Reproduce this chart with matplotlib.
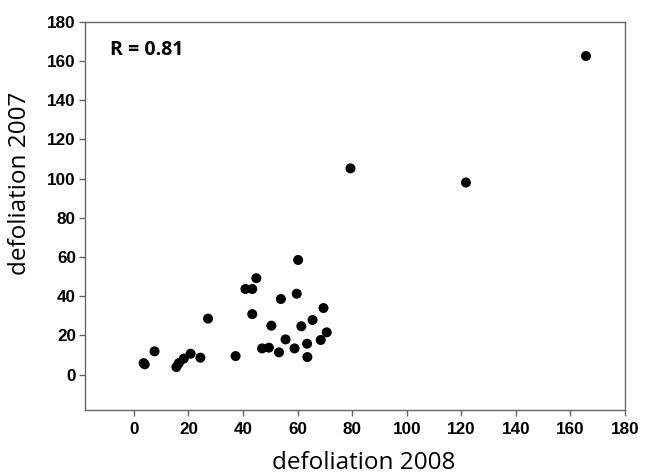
import matplotlib
matplotlib.use("Agg")
import matplotlib.pyplot as plt

# defoliation values
defol_2008 = [3.6, 4.0, 7.6, 15.6, 16.5, 18.3, 20.8, 24.4, 27.2, 37.3,
              40.9, 43.4, 44.9, 43.4, 47.0, 49.5, 50.4, 53.2, 53.9, 55.6,
              58.9, 60.2, 59.7, 61.4, 63.5, 63.6, 65.5, 68.5, 69.5, 70.7,
              79.4, 121.7, 165.7]
defol_2007 = [5.9, 5.3, 11.9, 3.9, 5.9, 8.2, 10.7, 8.7, 28.6, 9.5,
              43.7, 43.7, 49.2, 30.9, 13.4, 13.8, 25.0, 11.4, 38.6, 18.0,
              13.4, 58.5, 41.3, 24.7, 15.8, 9.0, 27.9, 17.7, 34.0, 21.6,
              105.2, 98.0, 162.5]
ticks = list(range(0, 181, 20))
r_text = "R = 0.81"

W, H = 646, 475
fig = plt.figure(figsize=(W / 100, H / 100), dpi=100)
ax = fig.add_axes([84.7 / W, 1 - 410 / H, (625 - 84.7) / W, (410 - 21.7) / H])

ax.scatter(defol_2008, defol_2007, s=52, color="black", edgecolors="none", zorder=3)

ax.set_xlim(-18, 180)
ax.set_ylim(-18, 180)
ax.set_xticks(ticks)
ax.set_yticks(ticks)

spine_col = "#666666"
for sp in ax.spines.values():
    sp.set_color(spine_col)
    sp.set_linewidth(1.0)

ax.tick_params(axis="both", direction="out", length=4.3, width=1.0, color=spine_col)
ax.tick_params(axis="x", pad=4.5)
ax.tick_params(axis="y", pad=2)
for lab in ax.get_xticklabels() + ax.get_yticklabels():
    lab.set_fontfamily("Liberation Sans")
    lab.set_fontweight("bold")
    lab.set_fontsize(12.3)

fig.text(364 / W, 6 / H, "defoliation 2008", ha="center", va="baseline",
         fontsize=17.5, family="Open Sans")
fig.text(26 / W, 1 - 183 / H, "defoliation 2007", ha="center", va="baseline",
         rotation=90, rotation_mode="anchor", fontsize=17.5, family="Open Sans")
fig.text(110 / W, 1 - 55 / H, r_text, ha="left", va="baseline",
         fontsize=14, fontweight="bold", family="Open Sans")

fig.savefig("out.png", dpi=100)
